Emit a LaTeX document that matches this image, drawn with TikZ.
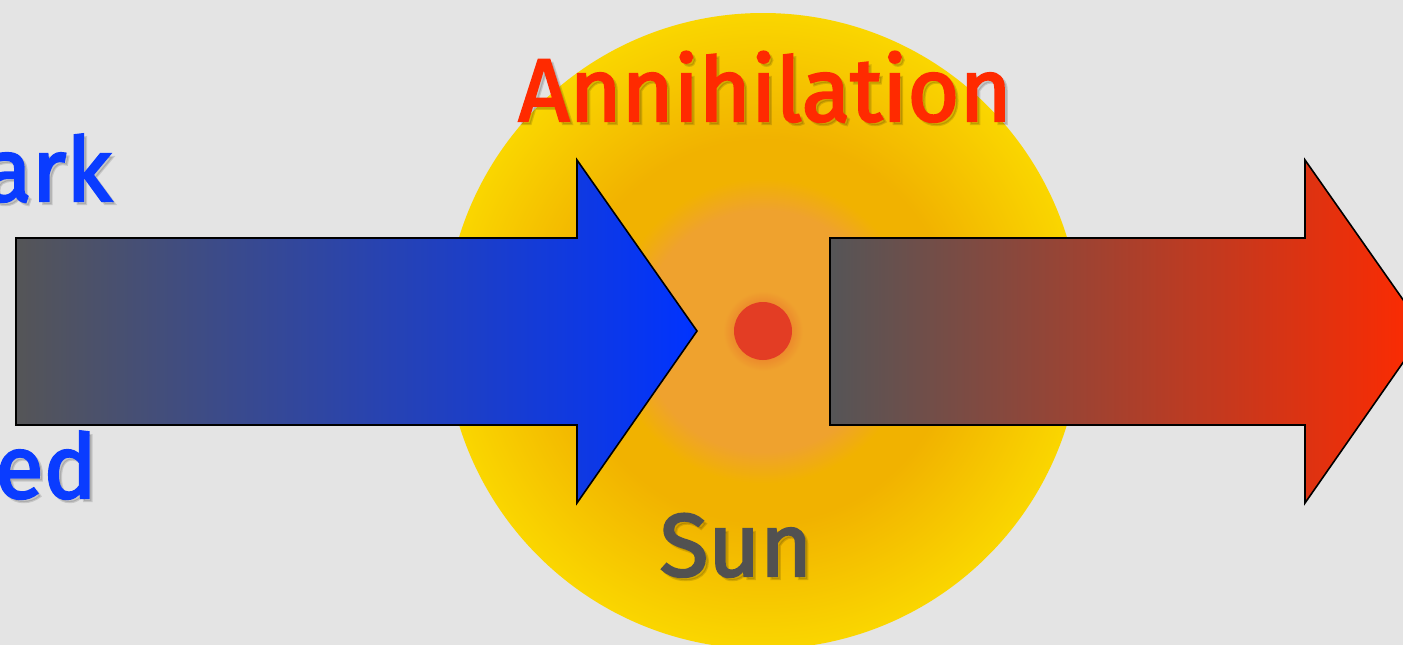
\documentclass[tikz,border=0pt]{standalone}
\usepackage{fontspec}
\setmainfont{Fira Sans}
\newfontfamily\labelfont{Fira Sans}[FakeBold=2.6]
\definecolor{bg}{HTML}{E4E4E4}
\definecolor{sunA}{HTML}{EFA22E}
\definecolor{sunB}{HTML}{F1B200}
\definecolor{sunC}{HTML}{FAD600}
\definecolor{dotred}{HTML}{E33D24}
\definecolor{txtblue}{HTML}{0A3CFF}
\definecolor{txtred}{HTML}{FF2A00}
\definecolor{txtgray}{HTML}{515151}
\definecolor{arrgray}{HTML}{555557}
\definecolor{arrblue}{HTML}{0033FF}
\definecolor{arrred}{HTML}{FF2A00}
\pgfdeclareradialshading{sunshade}{\pgfpoint{0bp}{0bp}}{color(0bp)=(sunA); color(9.5bp)=(sunA); color(12bp)=(sunB); color(15bp)=(sunB); color(25bp)=(sunC); color(50bp)=(sunC)}
\tikzset{
  bigtext/.style={font=\fontsize{89}{100}\selectfont\labelfont, inner sep=0pt},
  shadowtext/.style={bigtext, text=black, opacity=0.13},
  arrowbox/.style={draw=black, line width=1.6pt, line join=miter},
}
\begin{document}
\begin{tikzpicture}[x=1pt,y=-1pt]
\useasboundingbox (0,0) rectangle (1403,645);
\clip (0,0) rectangle (1403,645);
\fill[bg] (0,0) rectangle (1403,645);
% sun
\shade[shading=sunshade] (763,331) circle[radius=318];
\coordinate (core) at (763,331);
\shade[inner color=dotred!80!sunA, outer color=sunA] (core) circle[radius=40];
\node[circle, fill=dotred, minimum size=58pt, inner sep=0pt] (dot) at (core) {};
% left arrow
\shade[arrowbox, left color=arrgray, right color=arrblue]
  (16,238) -- (577,238) -- (577,160) -- (697,331) -- (577,503) -- (577,425) -- (16,425) -- cycle;
% right arrow
\shade[arrowbox, left color=arrgray, right color=arrred]
  (830,238) -- (1305,238) -- (1305,160) -- (1425,331) -- (1305,503) -- (1305,425) -- (830,425) -- cycle;
% texts with shadows
\node[shadowtext, anchor=base east] at (115,204) {ark};
\node[bigtext, text=txtblue, anchor=base east] (ark) at (112,201) {ark};
\node[shadowtext, anchor=base east] at (100,501) {ed};
\node[bigtext, text=txtblue, anchor=base east] (ed) at (97,498) {ed};
\node[shadowtext, anchor=base] at (768,124) {Annihilation};
\node[bigtext, text=txtred, anchor=base] (ann) at (765,121) {Annihilation};
\node[shadowtext, anchor=base] at (739,579) {Sun};
\node[bigtext, text=txtgray, anchor=base] (sun) at (736,576) {Sun};
\end{tikzpicture}
\end{document}
